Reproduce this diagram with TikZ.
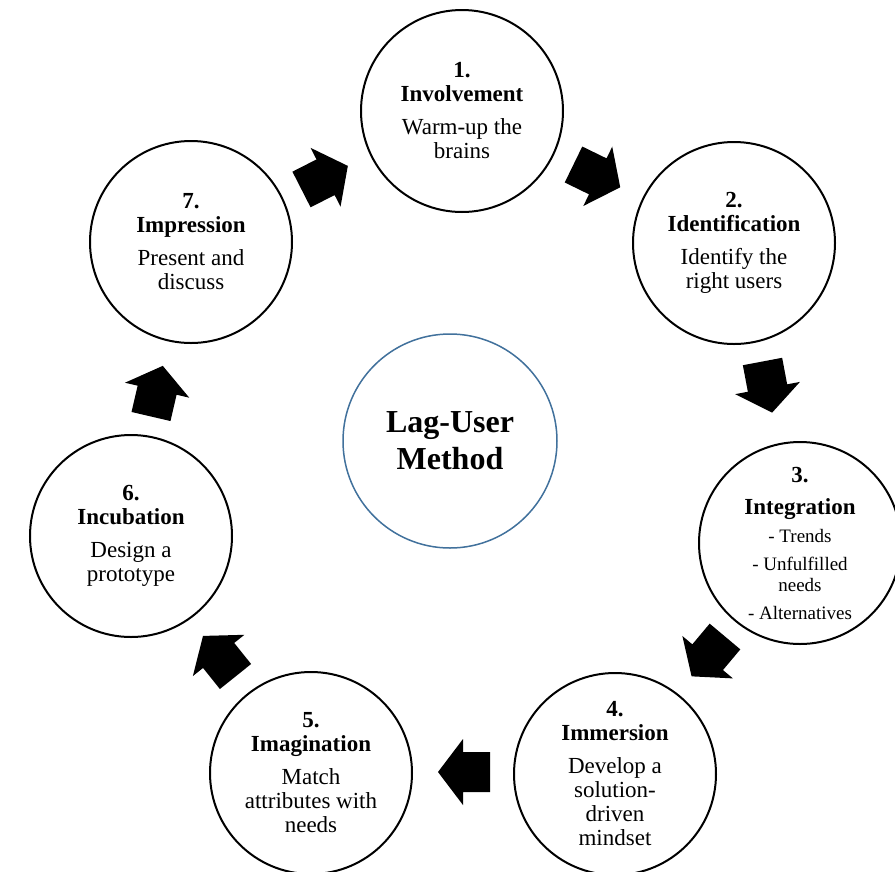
\documentclass[tikz,border=0pt]{standalone}
\usepackage{fontspec}
\setmainfont{Liberation Serif}
\definecolor{hubblue}{RGB}{65,113,156}
\tikzset{
  stage/.style={circle, draw=black, line width=2pt, minimum size=202pt, inner sep=0pt,
    align=center, font=\fontsize{23}{24}\selectfont},
  hub/.style={circle, draw=hubblue, line width=1.5pt, minimum size=214pt, inner sep=0pt,
    align=center, font=\bfseries\fontsize{32}{37}\selectfont},
  blockarrow/.pic={\fill[black] (0,-20) -- (27,-20) -- (27,-33) -- (52,0) -- (27,33) -- (27,20) -- (0,20) -- cycle;}
}
\begin{document}
\begin{tikzpicture}[x=1pt,y=-1pt]
\clip (0,0) rectangle (895,871);
\fill[white] (0,0) rectangle (895,871);

\node[hub] (hub) at (450,441) {Lag-User\\Method};

\node[stage] (s1) at (462,111) {\textbf{1.}\\\textbf{Involvement}\\[9pt]Warm-up the\\brains};
\node[stage] (s2) at (734,243) {\textbf{2.}\\\textbf{Identification}\\[9pt]Identify the\\right users};
\node[stage, font=\fontsize{19}{21}\selectfont] (s3) at (800,543)
  {{\fontsize{23}{24}\selectfont\textbf{3.}}\\[11pt]{\fontsize{23}{24}\selectfont\textbf{Integration}}\\[7pt]- Trends\\[7pt]- Unfulfilled\\needs\\[7pt]- Alternatives};
\node[stage] (s4) at (615,774) {\textbf{4.}\\\textbf{Immersion}\\[9pt]Develop a\\solution-\\driven\\mindset};
\node[stage] (s5) at (311,773) {\textbf{5.}\\\textbf{Imagination}\\[9pt]Match\\attributes with\\needs};
\node[stage] (s6) at (131,536) {\textbf{6.}\\\textbf{Incubation}\\[9pt]Design a\\prototype};
\node[stage] (s7) at (191,242) {\textbf{7.}\\\textbf{Impression}\\[9pt]Present and\\discuss};

\pic[rotate=27] at (301.5,189.5) {blockarrow};
\pic[rotate=-26] at (573.5,164.5) {blockarrow};
\pic[rotate=-79.3] at (762.5,361.5) {blockarrow};
\pic[rotate=-130] at (725,636.5) {blockarrow};
\pic[rotate=180] at (490,772) {blockarrow};
\pic[rotate=128.7] at (235.5,676.5) {blockarrow};
\pic[rotate=76.9] at (151,416.5) {blockarrow};
\end{tikzpicture}
\end{document}
